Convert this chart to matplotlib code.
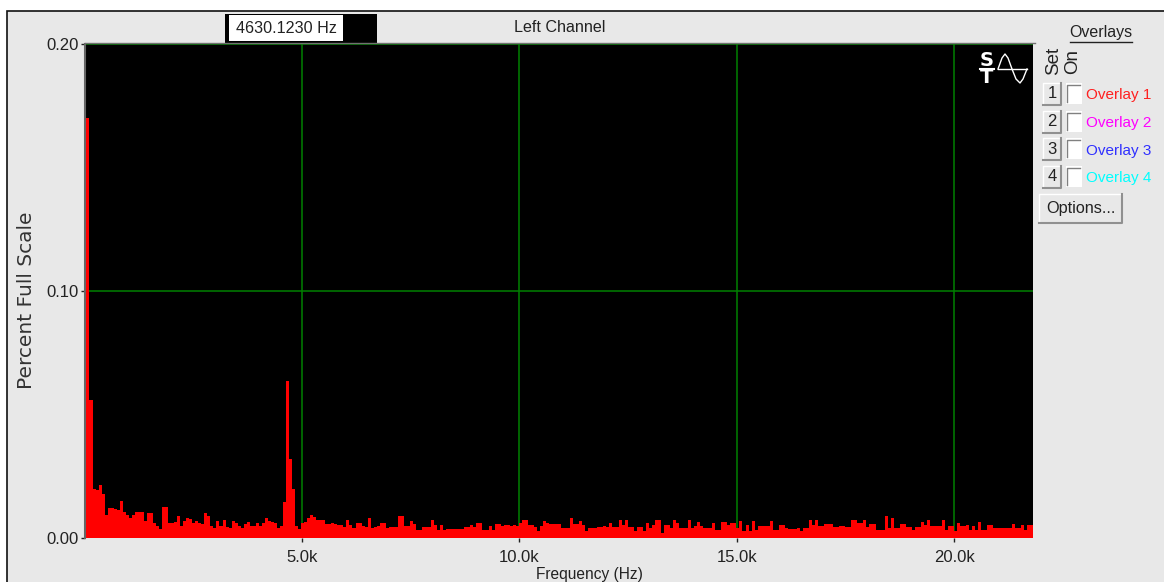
import matplotlib
matplotlib.use("Agg")
import matplotlib.pyplot as plt
from matplotlib.patches import Rectangle

plt.rcParams['font.family'] = ['Liberation Sans', 'DejaVu Sans']

# spectrum, in thousandths of percent full scale
low_band = [170, 56, 20, 19.5, 21.3, 17.8, 9.5, 12, 12, 11.7, 11.5, 15, 10.4, 9.4, 8, 9.4, 10.4, 10.4, 10.4, 7,
            10, 10, 6, 4.7, 3.5, 12.4, 12.4, 6, 6, 6.5, 8.8, 5, 7, 8, 7.5, 6, 7, 6, 5.8, 10,
            9, 5, 4, 7, 5, 7.4, 4.5, 4, 6.7, 6, 5, 4, 5.5, 6.5, 4.7, 4.7, 6, 5, 6, 8,
            7, 6.5, 6, 4, 5, 14.4, 63.5, 32, 20, 5, 3.5, 6, 6.5, 8, 9.5, 8.5, 7.4, 7.4, 7.4, 5.5,
            5.5, 6, 5.5]
band_2 = [5.4, 5.4, 4.5, 7.4, 5.4, 4.0, 6, 6, 5, 4.5, 8, 4, 4.5, 5, 6, 6, 4, 4.5, 4.5, 4.5,
          9, 9, 4.7, 4.7, 6.7, 5.5, 3.4, 3.4, 4.5, 4.5, 4.5, 7.4, 5.4, 3.4, 5.4, 3.4, 3.8, 3.8, 3.8, 3.8,
          3.8, 3.8, 4.5, 4.5, 5.4, 4.5, 6, 6, 3.4, 3.4, 5, 3.4, 5.8, 5.8, 4.8, 5.4, 5.4, 4.8]
band_3 = [5.4, 5, 6, 7.4, 7.4, 5.4, 5.4, 4.5, 2.7, 5, 6.7, 6, 5.8, 5.8, 5.8, 5.8, 4, 4, 4, 8,
          5.8, 5.8, 6.7, 5.4, 2.7, 4, 4, 4, 4.5, 4.5, 4.8, 4.5, 6, 4.5, 4.5, 7.4, 5.4, 7.4, 4.5, 4.5,
          2.7, 4.5, 4.5, 2.7, 6, 4, 5.4, 7.4, 7.4, 2, 5.4, 5.4, 4, 7.4, 6, 4, 4, 4]
band_4 = [7.4, 4, 4.7, 6.3, 5, 4, 4, 4, 6, 3.4, 3.4, 6.5, 6.5, 5.4, 6, 6, 4, 6.7, 2.7, 5.4,
          3, 6.7, 3.4, 4.7, 4.7, 4.7, 4.7, 6.7, 3.4, 3.4, 5.4, 5.4, 4, 3.8, 3.8, 3.8, 4, 2.7, 4, 4,
          7.4, 5.4, 7.4, 4.7, 4.7, 5.8, 5.8, 5.8, 4.5, 4.5, 4.7, 4.7, 4.5, 4.5, 7.4, 7.4, 6, 6]
band_5 = [7.4, 4.5, 5.8, 5.8, 3.4, 3.4, 3.4, 8.8, 4, 8, 4, 4, 5.8, 5.8, 4.5, 4.3, 3.4, 4.5, 4.5, 6.5,
          5.4, 7.4, 4.7, 4.7, 4.7, 4.7, 7.4, 3.4, 5, 5, 2.7, 6, 5, 5, 5.4, 3.4, 5, 3.4, 6.5, 3.4,
          3.4, 5.4, 5.4, 4, 4, 4, 4, 4, 4, 5.8, 4, 4, 5.4, 3.4, 5.4, 5.4, 5.4]
bin_hz = 69.5
x_ticks = [5000, 10000, 15000, 20000]
x_tick_labels = ['5.0k', '10.0k', '15.0k', '20.0k']
y_ticks = [0.0, 0.10, 0.20]
y_tick_labels = ['0.00', '0.10', '0.20']
overlay_names = ['Overlay 1', 'Overlay 2', 'Overlay 3', 'Overlay 4']
overlay_colors = ['#ff2020', '#ff00ff', '#3030ff', '#00ffff']

spectrum = [v / 1000 for v in low_band + band_2 + band_3 + band_4 + band_5]
freqs = [45 + i * bin_hz for i in range(len(spectrum))]

W, H = 1164, 582
fig = plt.figure(figsize=(W / 100, H / 100), dpi=100, facecolor='white')

# window chrome drawn in pixel coordinates
ui = fig.add_axes([0, 0, 1, 1])
ui.set_xlim(0, W)
ui.set_ylim(H, 0)
ui.axis('off')
ui.add_patch(Rectangle((7, 11), W, H, fc='#e8e8e8', ec='#111111', lw=1.2))

ax = fig.add_axes([85 / W, 1 - 538 / H, 948 / W, 494 / H], facecolor='black')
ax.bar(freqs, spectrum, width=bin_hz, align='edge', color='#ff0000', linewidth=0, zorder=3)
ax.set_xlim(11.5, 21805)
ax.set_ylim(0, 0.2)
ax.set_xticks(x_ticks)
ax.set_xticklabels(x_tick_labels)
ax.set_yticks(y_ticks)
ax.set_yticklabels(y_tick_labels)
ax.grid(color='#008000', lw=1.1, zorder=1)
ax.tick_params(length=3, width=1, color='#222222', labelsize=12, labelcolor='#222222')
ax.tick_params(axis='x', pad=6)
ax.tick_params(axis='y', pad=1.5)
ax.set_xlabel('Frequency (Hz)', fontsize=11.2, color='#222222')
ax.xaxis.set_label_coords(0.5316, -0.0585)
ax.set_ylabel('Percent Full Scale', fontsize=14.5, color='#333333', family='DejaVu Sans')
ax.yaxis.set_label_coords(-0.0515, 0.482)
for side in ['top', 'right', 'bottom']:
    ax.spines[side].set_visible(False)
ax.spines['left'].set_color('#666666')
ax.spines['left'].set_linewidth(1.5)

# second overlay on top for the widgets
top = fig.add_axes([0, 0, 1, 1], facecolor='none')
top.set_xlim(0, W)
top.set_ylim(H, 0)
top.axis('off')
text_c = '#222222'

top.add_patch(Rectangle((225, 13.5), 152, 29.5, fc='black', ec='none'))
top.add_patch(Rectangle((228.5, 15), 114.5, 26, fc='white', ec='none'))
top.text(286, 28.5, '4630.1230 Hz', ha='center', va='center', fontsize=11.6, color=text_c)
top.text(559.5, 27, 'Left Channel', ha='center', va='center', fontsize=11.6, color=text_c)
top.plot([85, 1035], [43.2, 43.2], color='#707070', lw=1)

top.text(1100.5, 32, 'Overlays', ha='center', va='center', fontsize=11.5, color=text_c)
top.plot([1070, 1132], [41.5, 41.5], color=text_c, lw=1)
top.text(1053.5, 60.5, 'Set', rotation=90, ha='center', va='center', fontsize=13.5, color=text_c)
top.text(1073, 61.5, 'On', rotation=90, ha='center', va='center', fontsize=13.5, color=text_c)

for i, name in enumerate(overlay_names):
    yc = 94 + i * 27.6
    top.add_patch(Rectangle((1043, yc - 11), 18, 22, fc='#e8e8e8', ec='none'))
    top.plot([1043, 1043, 1061], [yc + 11, yc - 11, yc - 11], color='white', lw=1)
    top.plot([1043, 1061, 1061], [yc + 11, yc + 11, yc - 11], color='#909090', lw=1.5)
    top.text(1052, yc, str(i + 1), ha='center', va='center', fontsize=12, color=text_c)
    top.add_patch(Rectangle((1066, yc - 11), 16, 21, fc='white', ec='none'))
    top.plot([1067, 1067, 1080], [yc + 8, yc - 9, yc - 9], color='#808080', lw=1)
    top.text(1086, yc + 1.5, name, ha='left', va='center', fontsize=11, color=overlay_colors[i])

top.add_patch(Rectangle((1039, 194), 83, 29, fc='#e8e8e8', ec='none'))
top.plot([1039, 1039, 1122], [223, 194, 194], color='white', lw=1)
top.plot([1039, 1122, 1122], [223, 223, 194], color='#909090', lw=1.5)
top.text(1080.5, 208.5, 'Options...', ha='center', va='center', fontsize=11.7, color=text_c)

# S/T scope icon
top.text(987, 60.5, 'S', ha='center', va='center', fontsize=14, weight='bold', color='white', family='DejaVu Sans')
top.plot([980, 994], [68.5, 68.5], color='white', lw=1.5)
top.text(987, 77.5, 'T', ha='center', va='center', fontsize=14, weight='bold', color='white', family='DejaVu Sans')
top.plot([998, 1002, 1005, 1008, 1012, 1016, 1020, 1023, 1027], [69, 58, 54, 58, 69, 79, 83, 79, 69], color='white', lw=1)
top.plot([998, 1027], [69, 69], color='white', lw=1)

fig.savefig('out.png', dpi=100, facecolor='white')
